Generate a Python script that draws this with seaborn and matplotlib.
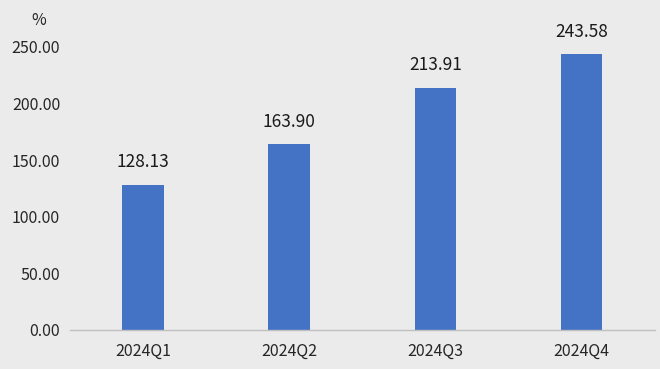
import matplotlib
matplotlib.use("Agg")
import pandas as pd
import seaborn as sns
from matplotlib import pyplot as plt

quarters = ["2024Q1", "2024Q2", "2024Q3", "2024Q4"]
values = [128.13, 163.90, 213.91, 243.58]
y_ticks = [0, 50, 100, 150, 200, 250]

df = pd.DataFrame({"quarter": quarters, "value": values})

sns.set_style("white")
plt.rcParams["font.family"] = ["Noto Sans CJK SC", "DejaVu Sans"]

bg = "#EBEBEB"
fig = plt.figure(figsize=(6.6, 3.69), dpi=100, facecolor=bg)
ax = fig.add_axes([0.106, 0.106, 0.886, 0.767])
ax.set_facecolor(bg)

sns.barplot(data=df, x="quarter", y="value", color="#4472C4",
            width=0.285, saturation=1, linewidth=0, ax=ax)

for i, v in enumerate(values):
    ax.text(i, v + 12, f"{v:.2f}", ha="center", va="bottom",
            fontsize=12.5, color="#1a1a1a", clip_on=False)

ax.set_ylim(0, 250)
ax.set_yticks(y_ticks)
ax.set_yticklabels([f"{t:.2f}" for t in y_ticks])
ax.set_xlabel("")
ax.set_ylabel("")
ax.tick_params(axis="both", length=0, labelsize=11.5, colors="#262626")
ax.tick_params(axis="x", pad=9)
ax.tick_params(axis="y", pad=7)
for s in ["top", "right", "left"]:
    ax.spines[s].set_visible(False)
ax.spines["bottom"].set_color("#BFBFBF")
ax.spines["bottom"].set_linewidth(1.0)

fig.text(0.058, 0.945, "%", ha="center", va="center", fontsize=11.5, color="#262626")

plt.savefig("out.png", dpi=100, facecolor=bg)
